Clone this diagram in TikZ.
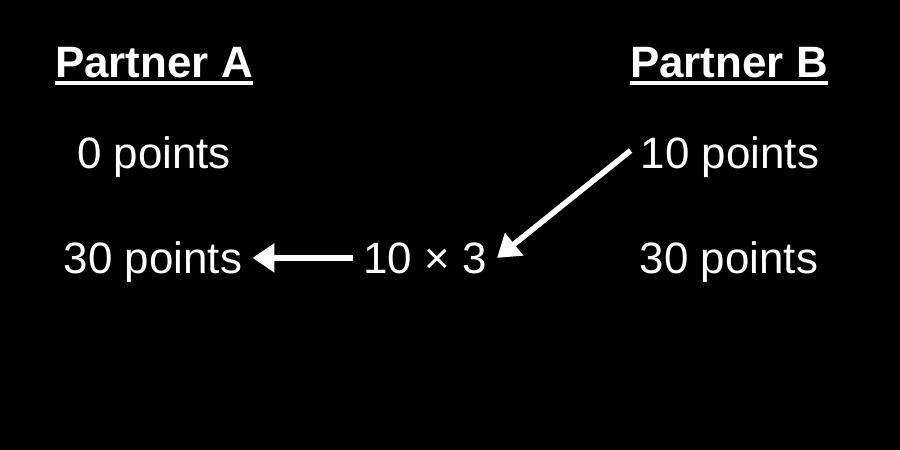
\documentclass[tikz,border=0pt]{standalone}
\usepackage{fontspec}
\setmainfont{Liberation Sans}
\usetikzlibrary{arrows.meta}
\begin{document}
\begin{tikzpicture}[
    x=0.02cm, y=-0.02cm,
    heading/.style={
        text=white,
        font=\fontsize{25}{30}\selectfont\bfseries,
        inner sep=0pt,
        anchor=base
    },
    pts/.style={
        text=white,
        font=\fontsize{25}{30}\selectfont,
        inner sep=0.2cm,
        anchor=base
    },
    uline/.style={
        white,
        line width=2.2pt
    },
    arrow/.style={
        -{Triangle[length=0.44cm,width=0.56cm]},
        white,
        line width=3.2pt
    }
]

% Background
\fill[black] (0,0) rectangle (900,450);

% Partner headings
\node[heading] (pa) at (154,77) {Partner A};
\node[heading] (pb) at (729,77) {Partner B};
\draw[uline] ([yshift=-0.12cm]pa.base west) -- ([yshift=-0.12cm]pa.base east);
\draw[uline] ([yshift=-0.12cm]pb.base west) -- ([yshift=-0.12cm]pb.base east);

% Points before and after
\node[pts] (a1) at (154,168) {0 points};
\node[pts] (a2) at (153,273) {30 points};
\node[pts] (b1) at (730,168) {10 points};
\node[pts] (b2) at (729,273) {30 points};

% Multiplication
\node[pts] (calc) at (425,273) {10 × 3};

% Arrows
\draw[arrow] ([yshift=0.12cm]b1.west) -- (calc.east);
\draw[arrow] (calc.west) -- (calc.west -| a2.east);

\end{tikzpicture}
\end{document}
